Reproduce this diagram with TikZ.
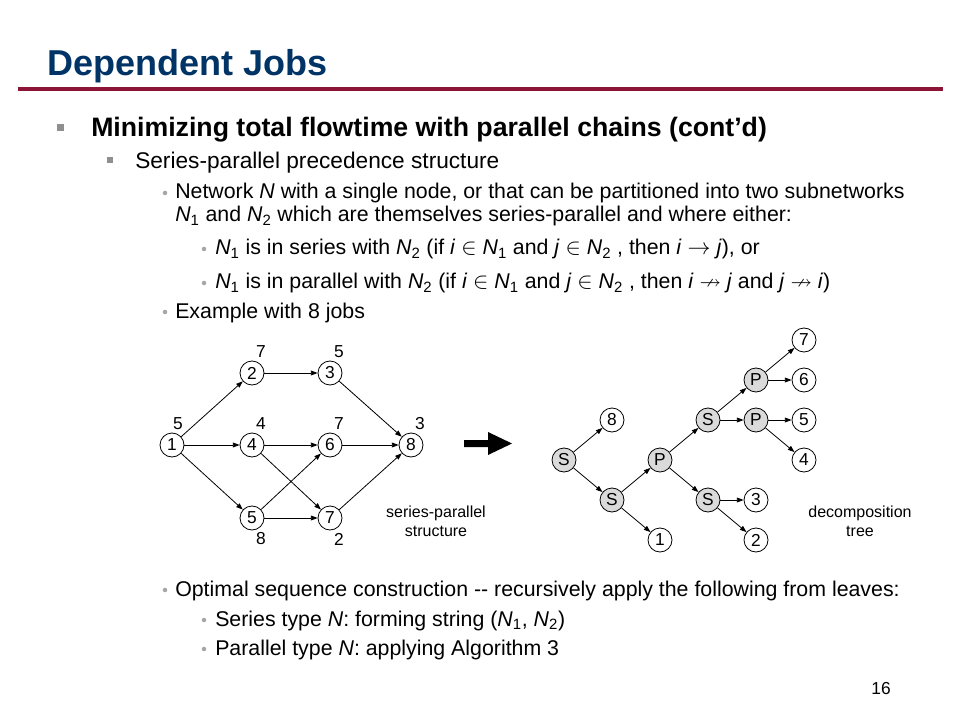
\documentclass[tikz,border=0pt]{standalone}
\usepackage{amssymb}
\usepackage{fontspec}
\setmainfont{Liberation Sans}
\usetikzlibrary{arrows.meta}
\definecolor{titleblue}{HTML}{003366}
\definecolor{rulered}{HTML}{8C1437}
\definecolor{bulletgray}{HTML}{8F8F8F}
\definecolor{dotgray}{HTML}{A6A6A6}
\definecolor{nodegray}{HTML}{DADADA}
\newcommand{\subnet}[1]{\textit{N}\textsubscript{#1}}
\newcommand{\fsz}[1]{\fontsize{#1}{#1}\selectfont}
\tikzset{%
  txt/.style={anchor=base west, inner sep=0pt},
  job/.style={circle, draw, line width=0.6pt, minimum size=18pt, inner sep=0pt, font=\fsz{13}},
  op/.style={job, fill=nodegray},
  wt/.style={inner sep=0pt, font=\fsz{13}},
  edge/.style={line width=0.6pt, -{Triangle[length=5pt, width=3.6pt]}},
  caption/.style={align=center, inner sep=0pt, font=\fontsize{12}{14.25}\selectfont},
}

\begin{document}
\begin{tikzpicture}[x=0.75pt, y=-0.75pt]
\useasboundingbox (0,0) rectangle (960,720);

% Title and rule
\node[txt, font=\fsz{27}\bfseries, text=titleblue] (title) at (47,76) {Dependent Jobs};
\draw[rulered, line width=2.3pt] (18,89) -- (943,89);

% Bullets
\fill[bulletgray] (57,124) rectangle (64,131);
\fill[bulletgray] (107,157) rectangle (113,163);
\foreach \y in {193,312,590} \fill[dotgray] (165,\y) circle (1.7pt);
\foreach \y in {249,283,620,649} \fill[dotgray] (204,\y) circle (1.7pt);

% Text lines
\node[txt, font=\fsz{20}\bfseries] (head) at (91,137) {Minimizing total flowtime with parallel chains (cont'd)};
\node[txt, font=\fsz{17}] (sub) at (135,169) {Series-parallel precedence structure};
\node[txt, font=\fsz{16}] (def1) at (175,199) {Network \textit{N} with a single node, or that can be partitioned into two subnetworks};
\node[txt, font=\fsz{16}] (def2) at (175,222) {\subnet{1} and \subnet{2} which are themselves series-parallel and where either:};
\node[txt, font=\fsz{16}] (ser) at (215,255) {\subnet{1} is in series with \subnet{2} (if \textit{i} $\in$ \subnet{1} and \textit{j} $\in$ \subnet{2} , then \textit{i} $\rightarrow$ \textit{j}), or};
\node[txt, font=\fsz{16}] (par) at (215,289) {\subnet{1} is in parallel with \subnet{2} (if \textit{i} $\in$ \subnet{1} and \textit{j} $\in$ \subnet{2} , then \textit{i} $\nrightarrow$ \textit{j} and \textit{j} $\nrightarrow$ \textit{i})};
\node[txt, font=\fsz{16}] (ex) at (175,318) {Example with 8 jobs};
\node[txt, font=\fsz{16}] (opt) at (175,596) {Optimal sequence construction {-}{-} recursively apply the following from leaves:};
\node[txt, font=\fsz{16}] (styp) at (215,626) {Series type \textit{N}: forming string (\subnet{1}, \subnet{2})};
\node[txt, font=\fsz{16}] (ptyp) at (215,655) {Parallel type \textit{N}: applying Algorithm 3};
\node[anchor=base east, inner sep=0pt, font=\fsz{13}] (page) at (891,694) {16};

% Series-parallel network
\node[job] (j1) at (172,445) {1};
\node[job] (j2) at (252,373) {2};
\node[job] (j3) at (330,373) {3};
\node[job] (j4) at (252,445) {4};
\node[job] (j6) at (330,445) {6};
\node[job] (j8) at (411,445) {8};
\node[job] (j5) at (252,518) {5};
\node[job] (j7) at (330,518) {7};

% Processing times
\node[wt] (w1) at ([shift={(6,-21)}]j1) {5};
\node[wt] (w2) at ([shift={(9,-21)}]j2) {7};
\node[wt] (w3) at ([shift={(9,-21)}]j3) {5};
\node[wt] (w4) at ([shift={(9,-21)}]j4) {4};
\node[wt] (w6) at ([shift={(9,-21)}]j6) {7};
\node[wt] (w8) at ([shift={(9,-21)}]j8) {3};
\node[wt] (w5) at ([shift={(9,21)}]j5) {8};
\node[wt] (w7) at ([shift={(9,21)}]j7) {2};

\draw[edge] (j1) -- (j2);
\draw[edge] (j1) -- (j4);
\draw[edge] (j1) -- (j5);
\draw[edge] (j2) -- (j3);
\draw[edge] (j4) -- (j6);
\draw[edge] (j4) -- (j7);
\draw[edge] (j5) -- (j6);
\draw[edge] (j5) -- (j7);
\draw[edge] (j3) -- (j8);
\draw[edge] (j6) -- (j8);
\draw[edge] (j7) -- (j8);

\node[caption] (spcap) at (436,521) {series-parallel\\structure};

% Big arrow
\fill (464,440) -- (488,440) -- (488,432) -- (512,443.5) -- (488,455) -- (488,447) -- (464,447) -- cycle;

% Decomposition tree
\node[op] (s1) at (564,460) {S};
\node[job] (t8) at (612,420) {8};
\node[op] (s2) at (612,500) {S};
\node[job] (t1) at (660,540) {1};
\node[op] (p1) at (660,460) {P};
\node[op] (s3) at (708,420) {S};
\node[op] (s4) at (708,500) {S};
\node[job] (t3) at (756,500) {3};
\node[job] (t2) at (756,540) {2};
\node[op] (p2) at (756,380) {P};
\node[op] (p3) at (756,420) {P};
\node[job] (t7) at (804,340) {7};
\node[job] (t6) at (804,380) {6};
\node[job] (t5) at (804,420) {5};
\node[job] (t4) at (804,460) {4};

\draw[edge] (s1) -- (t8);
\draw[edge] (s1) -- (s2);
\draw[edge] (s2) -- (p1);
\draw[edge] (s2) -- (t1);
\draw[edge] (p1) -- (s3);
\draw[edge] (p1) -- (s4);
\draw[edge] (s3) -- (p2);
\draw[edge] (s3) -- (p3);
\draw[edge] (p2) -- (t7);
\draw[edge] (p2) -- (t6);
\draw[edge] (p3) -- (t5);
\draw[edge] (p3) -- (t4);
\draw[edge] (s4) -- (t3);
\draw[edge] (s4) -- (t2);

\node[caption] (dtcap) at (860,521) {decomposition\\tree};

\end{tikzpicture}
\end{document}
